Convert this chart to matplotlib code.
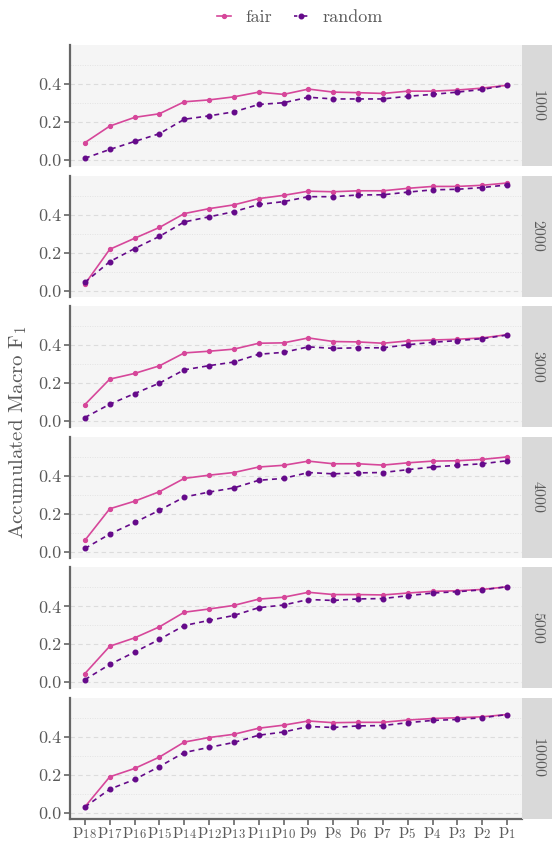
import numpy as np
import matplotlib
matplotlib.use("Agg")
import matplotlib.pyplot as plt
from matplotlib.lines import Line2D

plt.rcParams['font.family'] = 'serif'
plt.rcParams['font.serif'] = ['cmr10', 'DejaVu Serif']
plt.rcParams['mathtext.fontset'] = 'cm'
plt.rcParams['axes.formatter.use_mathtext'] = True

# x categories (as ordered on the axis)
parts = ['18', '17', '16', '15', '14', '12', '13', '11', '10',
         '9', '8', '6', '7', '5', '4', '3', '2', '1']
sizes = ['1000', '2000', '3000', '4000', '5000', '10000']

fair_1000 = [0.091, 0.178, 0.224, 0.243, 0.306, 0.316, 0.332, 0.357, 0.345,
             0.373, 0.357, 0.354, 0.350, 0.362, 0.362, 0.368, 0.378, 0.393]
random_1000 = [0.009, 0.055, 0.097, 0.138, 0.214, 0.232, 0.253, 0.292, 0.301,
               0.330, 0.321, 0.321, 0.321, 0.335, 0.345, 0.357, 0.371, 0.393]
fair_2000 = [0.034, 0.217, 0.275, 0.332, 0.405, 0.431, 0.451, 0.484, 0.501,
             0.523, 0.520, 0.525, 0.525, 0.538, 0.548, 0.548, 0.554, 0.566]
random_2000 = [0.043, 0.152, 0.221, 0.285, 0.361, 0.388, 0.415, 0.453, 0.468,
               0.494, 0.494, 0.503, 0.504, 0.518, 0.530, 0.533, 0.542, 0.556]
fair_3000 = [0.087, 0.221, 0.251, 0.291, 0.359, 0.368, 0.379, 0.410, 0.412,
             0.438, 0.419, 0.417, 0.410, 0.422, 0.427, 0.431, 0.438, 0.455]
random_3000 = [0.019, 0.089, 0.145, 0.200, 0.270, 0.292, 0.311, 0.352, 0.362,
               0.391, 0.383, 0.386, 0.386, 0.402, 0.415, 0.424, 0.434, 0.453]
fair_4000 = [0.060, 0.226, 0.266, 0.316, 0.386, 0.403, 0.417, 0.446, 0.455,
             0.477, 0.463, 0.463, 0.456, 0.468, 0.477, 0.479, 0.486, 0.499]
random_4000 = [0.017, 0.093, 0.154, 0.218, 0.288, 0.314, 0.336, 0.376, 0.386,
               0.417, 0.410, 0.415, 0.417, 0.432, 0.446, 0.455, 0.463, 0.479]
fair_5000 = [0.046, 0.190, 0.234, 0.292, 0.369, 0.386, 0.405, 0.438, 0.448,
             0.474, 0.462, 0.462, 0.460, 0.470, 0.479, 0.482, 0.489, 0.503]
random_5000 = [0.014, 0.094, 0.159, 0.226, 0.299, 0.326, 0.352, 0.393, 0.407,
               0.436, 0.431, 0.439, 0.441, 0.456, 0.470, 0.477, 0.487, 0.503]
fair_10000 = [0.032, 0.190, 0.234, 0.294, 0.373, 0.397, 0.414, 0.446, 0.462,
              0.484, 0.475, 0.477, 0.477, 0.489, 0.497, 0.501, 0.506, 0.518]
random_10000 = [0.031, 0.125, 0.176, 0.244, 0.318, 0.345, 0.371, 0.409, 0.426,
                0.455, 0.450, 0.458, 0.460, 0.475, 0.487, 0.492, 0.501, 0.518]

fair_all = [fair_1000, fair_2000, fair_3000, fair_4000, fair_5000, fair_10000]
random_all = [random_1000, random_2000, random_3000, random_4000, random_5000, random_10000]

FAIR_COL = '#D6479A'
RAND_COL = '#650A8A'
TEXT_COL = '#5A5A5A'
AXIS_COL = '#666666'

W, H = 552, 843
fig = plt.figure(figsize=(W / 100, H / 100), dpi=100)

x = np.arange(len(parts))
left, right = 70, 522
strip_w = 30
top0, panel_h, step = 45, 121, 130.6

for i, size in enumerate(sizes):
    top = top0 + i * step
    ax = fig.add_axes([left / W, 1 - (top + panel_h) / H, (right - left) / W, panel_h / H])
    ax.set_facecolor('#F5F5F5')
    ax.plot(x, fair_all[i], color=FAIR_COL, lw=1.2, marker='o', ms=2.8, zorder=3)
    ax.plot(x, random_all[i], color=RAND_COL, lw=1.2, ls=(0, (3, 2.5)), marker='o', ms=3.3, zorder=3)
    ax.set_xlim(-0.6, len(parts) - 0.4)
    ax.set_ylim(-0.032, 0.605)
    ax.set_yticks([0.0, 0.2, 0.4])
    ax.set_yticklabels(['0.0', '0.2', '0.4'])
    ax.set_yticks([0.1, 0.3, 0.5], minor=True)
    ax.grid(axis='y', which='major', color='#DCDCDC', ls=(0, (4, 3)), lw=0.8)
    ax.grid(axis='y', which='minor', color='#E3E3E3', ls=(0, (1, 1.5)), lw=0.7)
    ax.set_axisbelow(True)
    for s in ['top', 'right']:
        ax.spines[s].set_visible(False)
    ax.spines['left'].set_color(AXIS_COL)
    ax.spines['left'].set_linewidth(1.6)
    ax.tick_params(axis='y', which='major', length=4, width=1.2, color=AXIS_COL,
                   labelcolor=TEXT_COL, labelsize=13, pad=2)
    ax.tick_params(axis='y', which='minor', length=0)
    if i == len(sizes) - 1:
        ax.spines['bottom'].set_color(AXIS_COL)
        ax.spines['bottom'].set_linewidth(1.6)
        ax.set_xticks(x)
        ax.set_xticklabels([r'$\mathrm{p}_{%s}$' % p for p in parts])
        ax.tick_params(axis='x', length=4, width=1.2, color=AXIS_COL,
                       labelcolor=TEXT_COL, labelsize=13, pad=1)
    else:
        ax.spines['bottom'].set_visible(False)
        ax.set_xticks([])
    # facet strip on the right
    sax = fig.add_axes([right / W, 1 - (top + panel_h) / H, strip_w / W, panel_h / H])
    sax.set_facecolor('#D9D9D9')
    sax.set_xticks([])
    sax.set_yticks([])
    for s in sax.spines.values():
        s.set_visible(False)
    sax.text(0.5, 0.5, size, rotation=270, ha='center', va='center',
             color=TEXT_COL, fontsize=11.5, transform=sax.transAxes)

fig.text(18 / W, 1 - 432 / H, r'Accumulated Macro F$_1$', rotation=90,
         ha='center', va='center', color=TEXT_COL, fontsize=15)

handles = [Line2D([], [], color=FAIR_COL, lw=1.2, marker='o', ms=2.8),
           Line2D([], [], color=RAND_COL, lw=1.2, ls=(0, (2, 1)), marker='o', ms=3.3)]
fig.legend(handles, ['fair', 'random'], loc='center', bbox_to_anchor=(300 / W, 1 - 17 / H),
           ncol=2, frameon=False, fontsize=13, labelcolor=TEXT_COL,
           handlelength=0.8, handletextpad=0.8, columnspacing=1.2)

fig.savefig('out.png', dpi=100)
